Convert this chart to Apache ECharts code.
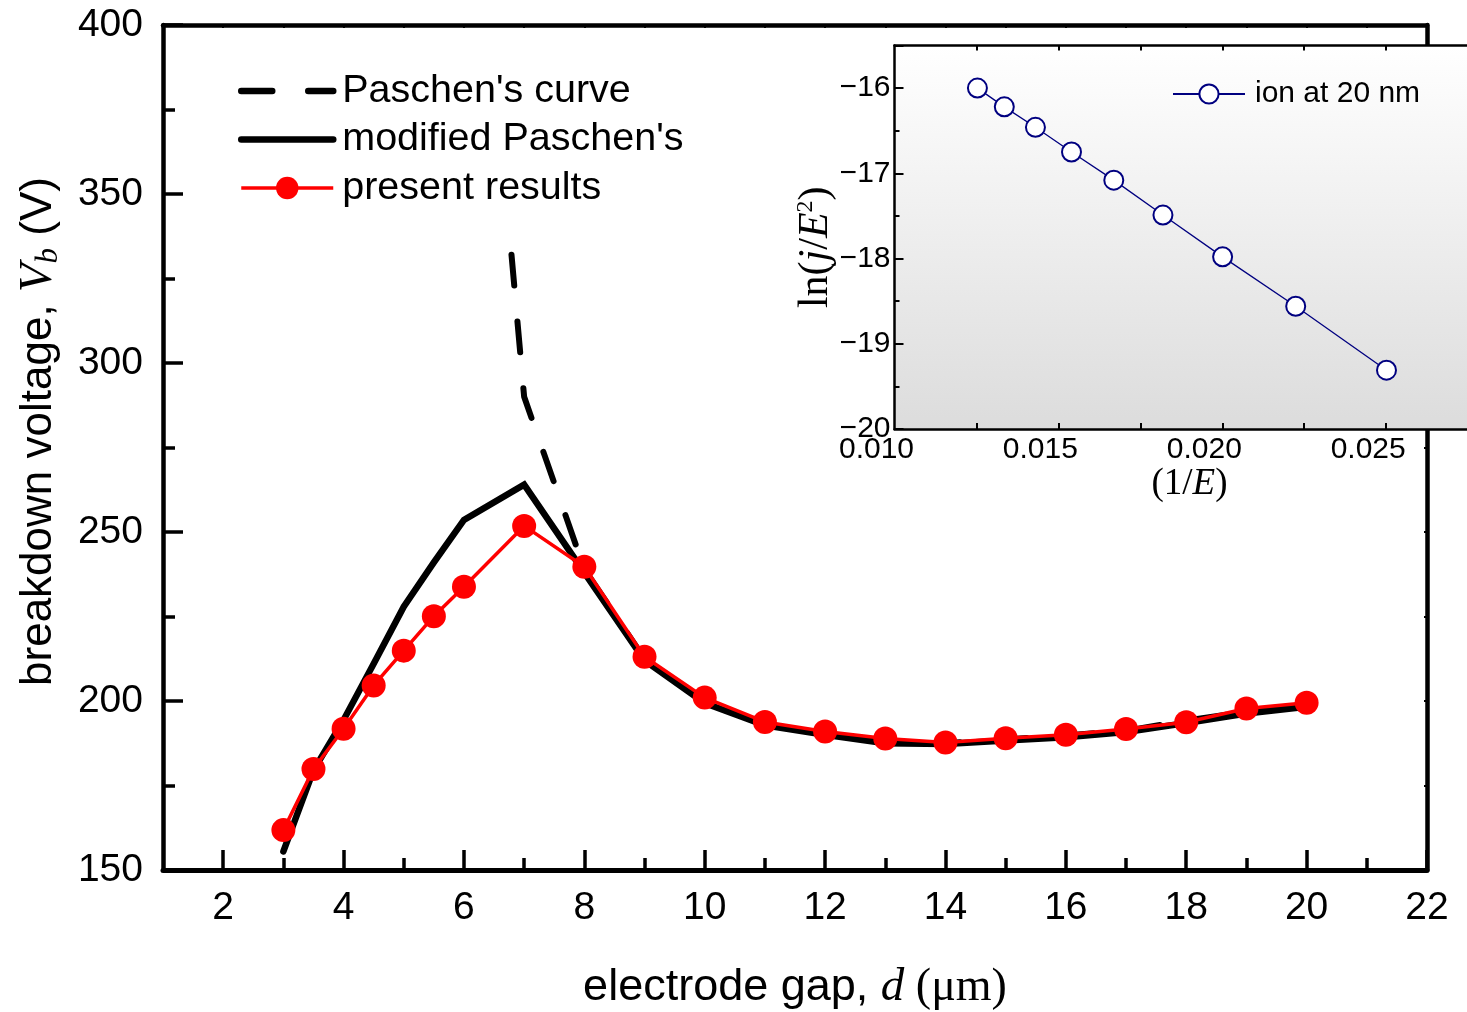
<!DOCTYPE html>
<html>
<head>
<meta charset="utf-8">
<script src="https://cdn.jsdelivr.net/npm/echarts@6/dist/echarts.min.js"></script>
<style>
html,body{margin:0;padding:0;background:#fff;}
#chart{width:1467px;height:1012px;}
</style>
</head>
<body>
<div id="chart"></div>
<script>
// ---------- data ----------
const gap = [3, 3.5, 4, 4.5, 5, 5.5, 6, 7, 8, 9, 10, 11, 12, 13, 14, 15, 16, 17, 18, 19, 20];
const presentResults = [161.8, 179.9, 191.8, 204.6, 214.9, 225.1, 233.8, 251.8, 239.7, 213.1, 201.0, 193.8, 191.0, 188.9, 187.7, 189.0, 190.0, 191.7, 193.7, 197.8, 199.5];
const modifiedPaschen = [155.5, 179.5, 194.4, 211.0, 227.9, 241.0, 253.6, 264.0, 238.0, 212.0, 199.4, 192.8, 190.0, 187.5, 187.3, 188.3, 189.3, 190.8, 193.5, 196.3, 198.3];
const paschenGap = [6, 7, 8, 9, 10, 11, 12, 13, 14, 15, 16, 17, 18, 19, 20];
const paschenCurve = [490, 290, 239, 212.5, 199.6, 193.0, 190.2, 187.8, 187.5, 188.6, 189.8, 191.2, 194.2, 196.8, 198.6];

const insetInvE = [0.01253, 0.01335, 0.0143, 0.0154, 0.01669, 0.01819, 0.02001, 0.02224, 0.02501];
const insetLnJE2 = [-16.0, -16.22, -16.46, -16.75, -17.08, -17.49, -17.98, -18.56, -19.31];

// tick labels / tick positions
const xTickLabels = [2, 4, 6, 8, 10, 12, 14, 16, 18, 20, 22];
const xMinorTicks = [3, 5, 7, 9, 11, 13, 15, 17, 19, 21];
const yTickLabels = [150, 200, 250, 300, 350, 400];
const insetXTickLabels = [0.010, 0.015, 0.020, 0.025];
const insetXTicks = [0.0125, 0.015, 0.0175, 0.020, 0.0225, 0.025, 0.0275];
const insetYTickLabels = [-20, -19, -18, -17, -16];

// ---------- helpers ----------
const pair = (xs, ys) => xs.map((x, i) => [x, ys[i]]);
const SANS = "'Liberation Sans', Arial, sans-serif";
const SERIF = "'Liberation Serif', 'Times New Roman', serif";

const chart = echarts.init(document.getElementById('chart'), null, {renderer: 'canvas'});

const blackLine = (w) => ({color: '#000', width: w});

const option = {
  animation: false,
  backgroundColor: '#ffffff',
  grid: [
    {left: 163, top: 25, width: 1264, height: 845, show: false, outerBoundsMode: 'none', containLabel: false},
    {left: 894.5, top: 45.5, width: 590, height: 383.5, show: true, borderWidth: 0,
     outerBoundsMode: 'none', containLabel: false, z: 5,
     backgroundColor: {type: 'linear', x: 0, y: 0, x2: 0, y2: 1,
       colorStops: [{offset: 0, color: '#ffffff'}, {offset: 0.12, color: '#fbfbfb'}, {offset: 1, color: '#dcdcdc'}]}}
  ],
  legend: [
    {
      data: [
        {name: "Paschen's curve", itemStyle: {opacity: 0}, lineStyle: {width: 6.5, type: [31, 36], cap: 'round', color: '#000'}},
        {name: "modified Paschen's", itemStyle: {opacity: 0}, lineStyle: {width: 6.5, cap: 'round', color: '#000'}},
        {name: 'present results', lineStyle: {width: 3.5, color: '#ff0000'}}
      ],
      orient: 'vertical', left: 230, top: 39, padding: [30, 12, 18, 8],
      backgroundColor: '#ffffff', z: 10,
      itemWidth: 92, itemHeight: 28, itemGap: 4.5,
      textStyle: {fontFamily: SANS, fontSize: 39.5, color: '#000', lineHeight: 44, padding: [0, 0, 0, 4]},
      selectedMode: false
    },
    {
      data: ['ion at 20 nm'],
      orient: 'vertical', left: 1172, top: 76, padding: 0, z: 10,
      itemWidth: 72, itemHeight: 24, itemGap: 0,
      textStyle: {fontFamily: SANS, fontSize: 30, color: '#000', lineHeight: 36, padding: [0, 0, 0, 5]},
      selectedMode: false
    }
  ],
  xAxis: [
    { // main bottom: major ticks + labels
      gridIndex: 0, type: 'value', position: 'bottom', min: 1, max: 22,
      axisLine: {show: true, onZero: false, lineStyle: blackLine(5)},
      axisTick: {show: true, inside: true, length: 20, lineStyle: blackLine(3.5), customValues: xTickLabels},
      axisLabel: {show: true, customValues: xTickLabels, fontFamily: SANS, fontSize: 39, color: '#000', margin: 19},
      splitLine: {show: false},
      name: '{a|electrode gap, }{i|d}{r| (μm)}',
      nameLocation: 'middle', nameGap: 93, nameMoveOverlap: false,
      nameTextStyle: {
        color: '#000',
        rich: {
          a: {fontFamily: SANS, fontSize: 45, color: '#000', lineHeight: 50},
          i: {fontFamily: SERIF, fontStyle: 'italic', fontSize: 47, color: '#000', lineHeight: 50},
          r: {fontFamily: SERIF, fontSize: 46, color: '#000', lineHeight: 50}
        }
      }
    },
    { // main bottom: minor ticks
      gridIndex: 0, type: 'value', position: 'bottom', min: 1, max: 22,
      axisLine: {show: false, onZero: false},
      axisTick: {show: true, inside: true, length: 12, lineStyle: blackLine(3.5), customValues: xMinorTicks},
      axisLabel: {show: false},
      splitLine: {show: false}
    },
    { // main top
      gridIndex: 0, type: 'value', position: 'top', min: 1, max: 22, interval: 1,
      axisLine: {show: true, onZero: false, lineStyle: blackLine(4.5)},
      axisTick: {show: true, inside: true, length: 3, lineStyle: blackLine(2)},
      axisLabel: {show: false},
      splitLine: {show: false}
    },
    { // inset bottom
      gridIndex: 1, type: 'value', position: 'bottom', min: 0.010, max: 0.028, z: 6,
      axisLine: {show: true, onZero: false, lineStyle: blackLine(2.5)},
      axisTick: {show: true, inside: true, length: 6, lineStyle: blackLine(2), customValues: insetXTicks},
      axisLabel: {show: true, customValues: insetXTickLabels, formatter: v => v.toFixed(3),
                  fontFamily: SANS, fontSize: 30, color: '#000', margin: 6, padding: [0, 36, 0, 0]},
      splitLine: {show: false},
      name: '{r|(1/}{i|E}{r|)}',
      nameLocation: 'middle', nameGap: 35, nameMoveOverlap: false,
      nameTextStyle: {
        rich: {
          r: {fontFamily: SERIF, fontSize: 37, color: '#000', lineHeight: 40},
          i: {fontFamily: SERIF, fontStyle: 'italic', fontSize: 37, color: '#000', lineHeight: 40}
        }
      }
    },
    { // inset top
      gridIndex: 1, type: 'value', position: 'top', min: 0.010, max: 0.028, z: 6,
      axisLine: {show: true, onZero: false, lineStyle: blackLine(2.5)},
      axisTick: {show: true, inside: true, length: 5, lineStyle: blackLine(2), customValues: insetXTicks},
      axisLabel: {show: false},
      splitLine: {show: false}
    }
  ],
  yAxis: [
    { // main left
      gridIndex: 0, type: 'value', position: 'left', min: 150, max: 400, interval: 50,
      axisLine: {show: true, onZero: false, lineStyle: blackLine(4.5)},
      axisTick: {show: true, inside: true, length: 20, lineStyle: blackLine(3.5)},
      minorTick: {show: true, splitNumber: 2, length: 12, lineStyle: blackLine(3.5)},
      axisLabel: {show: true, customValues: yTickLabels, fontFamily: SANS, fontSize: 39, color: '#000', margin: 20},
      splitLine: {show: false},
      minorSplitLine: {show: false},
      name: '{a|breakdown voltage, }{i|V}{s|b}{a| (V)}',
      nameLocation: 'middle', nameGap: 99, nameMoveOverlap: false,
      nameTextStyle: {
        padding: [0, 0, 0, 32],
        rich: {
          a: {fontFamily: SANS, fontSize: 44, color: '#000', lineHeight: 50},
          i: {fontFamily: SERIF, fontStyle: 'italic', fontSize: 47, color: '#000', lineHeight: 50},
          s: {fontFamily: SERIF, fontStyle: 'italic', fontSize: 31, color: '#000', lineHeight: 24, verticalAlign: 'bottom'}
        }
      }
    },
    { // main right
      gridIndex: 0, type: 'value', position: 'right', min: 150, max: 400, interval: 25,
      axisLine: {show: true, onZero: false, lineStyle: blackLine(4.5)},
      axisTick: {show: true, inside: true, length: 3, lineStyle: blackLine(2)},
      axisLabel: {show: false},
      splitLine: {show: false}
    },
    { // inset left
      gridIndex: 1, type: 'value', position: 'left', min: -20, max: -15.5, interval: 1, z: 6,
      axisLine: {show: true, onZero: false, lineStyle: blackLine(2.5)},
      axisTick: {show: true, inside: true, length: 9, lineStyle: blackLine(2)},
      minorTick: {show: true, splitNumber: 2, length: 5, lineStyle: blackLine(2)},
      axisLabel: {show: true, customValues: insetYTickLabels, formatter: v => String(v).replace('-', '\u2212'),
                  fontFamily: SANS, fontSize: 30, color: '#000', margin: 4},
      splitLine: {show: false},
      minorSplitLine: {show: false},
      name: '{r|ln(}{i|j}{r|/}{i|E}{sup|2}{r|)}',
      nameLocation: 'middle', nameGap: 57, nameMoveOverlap: false,
      nameTextStyle: {
        padding: [0, 20, 0, 0],
        rich: {
          r: {fontFamily: SERIF, fontSize: 42, color: '#000', lineHeight: 44},
          i: {fontFamily: SERIF, fontStyle: 'italic', fontSize: 42, color: '#000', lineHeight: 44},
          sup: {fontFamily: SERIF, fontSize: 24, color: '#000', lineHeight: 34, verticalAlign: 'top'}
        }
      }
    }
  ],
  series: [
    {
      name: "Paschen's curve", type: 'line', xAxisIndex: 0, yAxisIndex: 0,
      data: pair(paschenGap, paschenCurve),
      symbol: 'none', clip: true, z: 2,
      lineStyle: {color: '#000', width: 6, type: [31, 36], cap: 'round'},
      itemStyle: {color: '#000'}
    },
    {
      name: "modified Paschen's", type: 'line', xAxisIndex: 0, yAxisIndex: 0,
      data: pair(gap, modifiedPaschen),
      symbol: 'none', clip: true, z: 3,
      lineStyle: {color: '#000', width: 6.5, cap: 'round', join: 'miter'},
      itemStyle: {color: '#000'}
    },
    {
      name: 'present results', type: 'line', xAxisIndex: 0, yAxisIndex: 0,
      data: pair(gap, presentResults),
      symbol: 'circle', symbolSize: 24, showSymbol: true, clip: false, z: 4,
      lineStyle: {color: '#ff0000', width: 3.5},
      itemStyle: {color: '#ff0000'}
    },
    {
      name: 'ion at 20 nm', type: 'line', xAxisIndex: 3, yAxisIndex: 2,
      data: pair(insetInvE, insetLnJE2),
      symbol: 'emptyCircle', symbolSize: 19, showSymbol: true, clip: false, z: 8,
      lineStyle: {color: '#000080', width: 1.3},
      itemStyle: {color: '#000080', borderColor: '#000080', borderWidth: 2}
    }
  ]
};

chart.setOption(option);
</script>
</body>
</html>
